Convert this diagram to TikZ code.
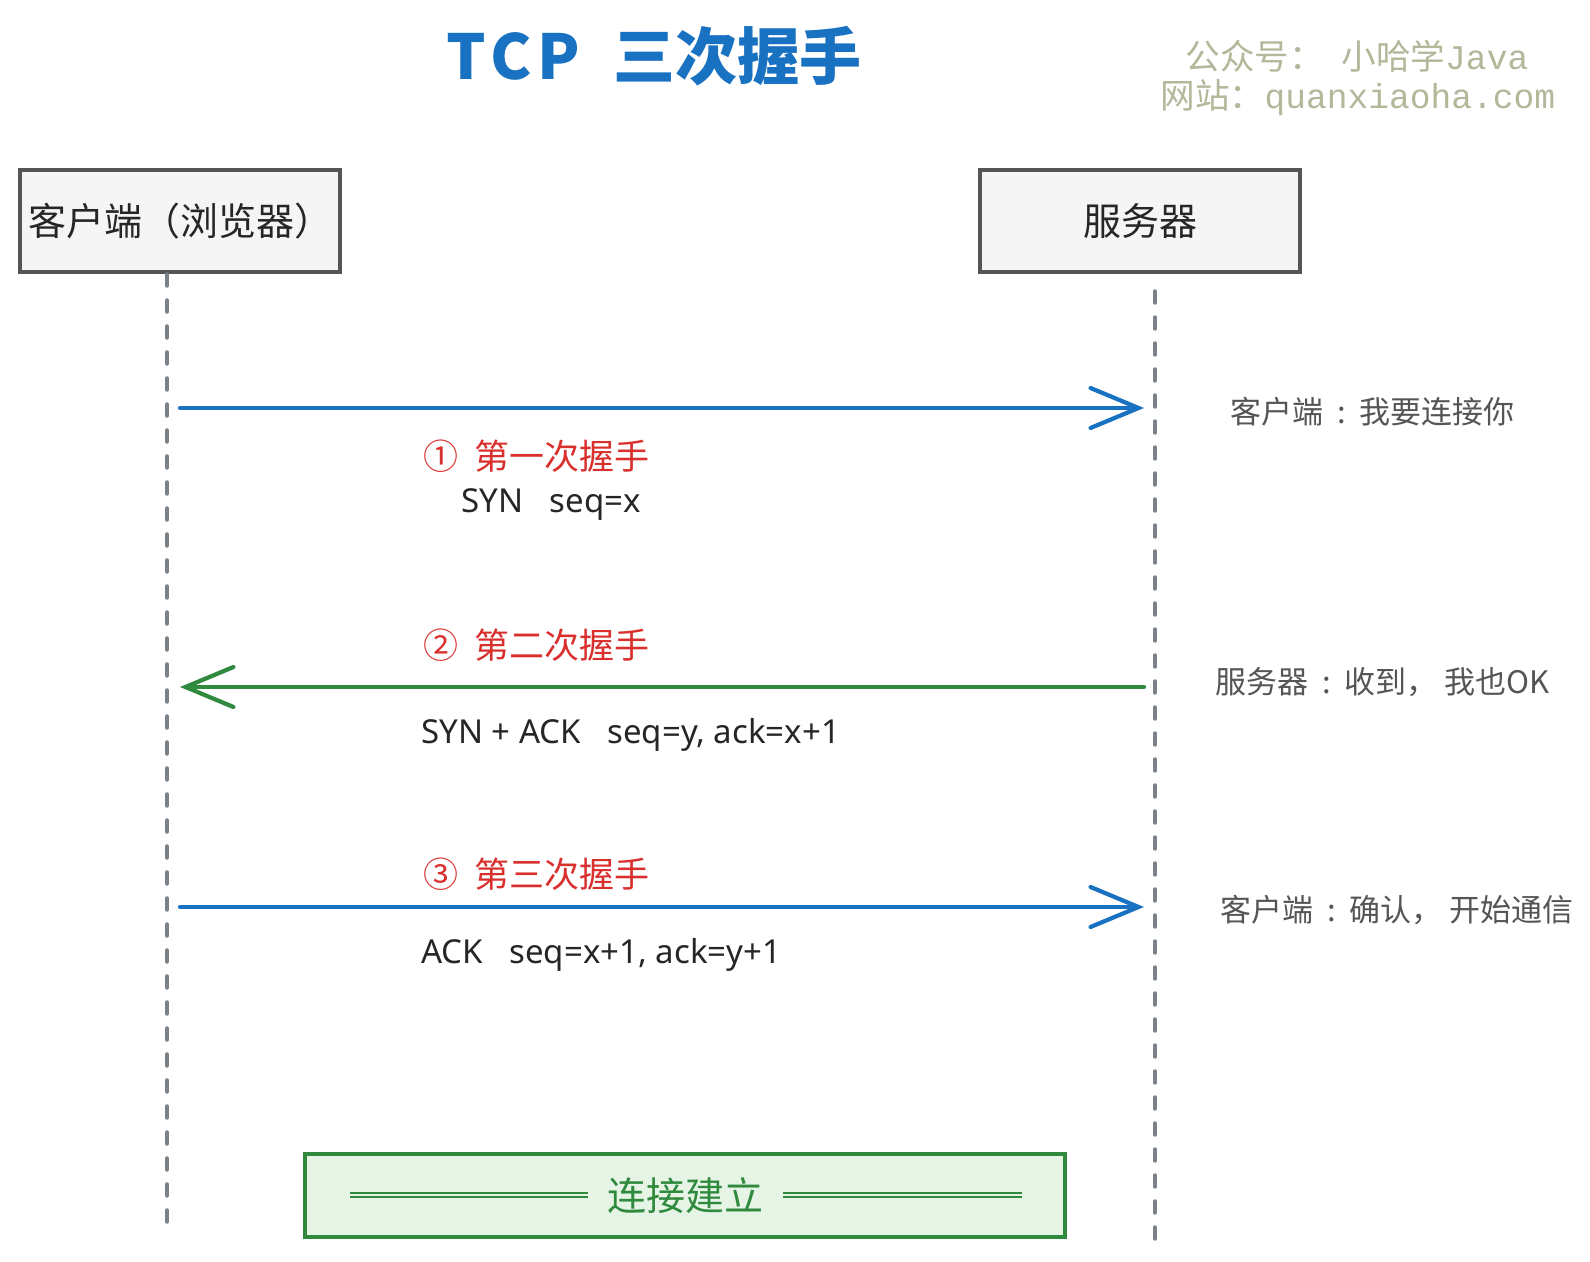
\documentclass[tikz,border=0pt]{standalone}
\usepackage{fontspec}
\setmainfont{Noto Sans CJK SC}
\newfontfamily\hand{Noto Sans}
\newfontfamily\wmmono{Liberation Mono}
\usetikzlibrary{arrows.meta}
\definecolor{eblue}{HTML}{1971C2}
\definecolor{egreen}{HTML}{2F8A3E}
\definecolor{ered}{HTML}{D9302E}
\definecolor{egray}{HTML}{555555}
\definecolor{lgray}{HTML}{7A8188}
\definecolor{wmark}{HTML}{B4B79A}
\definecolor{boxfill}{HTML}{F5F5F5}
\definecolor{gfill}{HTML}{E6F4E6}
\tikzset{
  actor/.style={draw=egray, line width=2pt, fill=boxfill, minimum width=160pt, minimum height=51pt, inner sep=0pt, font=\fontsize{19}{22}\selectfont, text=black!85},
  lifeline/.style={draw=lgray, line width=1.7pt, line cap=round, dash pattern=on 6pt off 7pt},
  msg/.style={line width=2.1pt, line cap=round, -{Straight Barb[length=24pt,width=20pt,line cap=round]}},
  steplabel/.style={anchor=west, text=ered, font=\fontsize{17.5}{20}\selectfont, inner sep=0pt},
  seqtext/.style={anchor=west, text=black!85, font=\hand\fontsize{16.5}{19}\selectfont, inner sep=0pt},
  note/.style={anchor=west, text=egray, font=\fontsize{15.5}{18}\selectfont, inner sep=0pt},
  wm/.style={text=wmark, font=\fontsize{17.3}{20}\selectfont, inner sep=0pt},
  donebox/.style={draw=egreen, line width=2pt, fill=gfill, minimum width=380pt, minimum height=41.5pt, inner sep=0pt},
  dline/.style={draw=egreen, line width=0.6pt}
}
\newcommand{\ncolon}{\hspace{0.45em}:\hspace{0.45em}}
\begin{document}
\begin{tikzpicture}[x=0.5pt,y=-0.5pt]
\useasboundingbox[fill=white] (0,0) rectangle (1590,1262);

% title and watermark
\node[text=eblue, font=\bfseries\fontsize{31}{34}\selectfont, inner sep=0pt] (title) at (654,56) {T\kern0.08em C\kern0.08em P\hspace{0.55em}三次握手};
\node[wm] (wm1) at (1357,56) {公众号：\hspace{0.5em}小哈学{\wmmono Java}};
\node[wm] (wm2) at (1358,98) {网站：{\wmmono quanxiaoha.com}};

% actors
\node[actor] (client) at (180,221) {客户端（浏览器）};
\node[actor] (server) at (1140,221) {服务器};

% lifelines
\coordinate (ctop) at (167,274);
\coordinate (cbot) at (167,1232);
\coordinate (stop) at (1155,291);
\coordinate (sbot) at (1155,1242);
\draw[lifeline] (ctop) -- (cbot);
\draw[lifeline] (stop) -- (sbot);

% messages
\coordinate (m1s) at (180,408);
\coordinate (m1e) at (1144,408);
\coordinate (m2s) at (1144,687);
\coordinate (m2e) at (180,687);
\coordinate (m3s) at (180,907);
\coordinate (m3e) at (1144,907);
\draw[msg, eblue] (m1s) -- (m1e);
\draw[msg, egreen] (m2s) -- (m2e);
\draw[msg, eblue] (m3s) -- (m3e);

% step labels
\node[steplabel] (l1) at (423,456) {①\hspace{0.45em}第一次握手};
\node[seqtext] (t1) at (461,505) {SYN\hspace{0.8em}seq=x};
\node[steplabel] (l2) at (423,645) {②\hspace{0.45em}第二次握手};
\node[seqtext] (t2) at (421,735) {SYN + ACK\hspace{0.8em}seq=y, ack=x+1};
\node[steplabel] (l3) at (423,874) {③\hspace{0.45em}第三次握手};
\node[seqtext] (t3) at (421,955) {ACK\hspace{0.8em}seq=x+1, ack=y+1};

% notes
\node[note] (n1) at (1230,412) {客户端\ncolon 我要连接你};
\node[note] (n2) at (1215,682) {服务器\ncolon 收到，\hspace{0.2em}我也OK};
\node[note] (n3) at (1220,910) {客户端\ncolon 确认，\hspace{0.2em}开始通信};

% connection established
\node[donebox] (done) at (684.5,1195.5) {};
\node[text=egreen, font=\fontsize{19.5}{22}\selectfont, inner sep=0pt] (donetext) at (685,1196) {连接建立};
\coordinate (d1a) at (350,1193);
\coordinate (d1b) at (588,1193);
\coordinate (d1c) at (350,1197);
\coordinate (d1d) at (588,1197);
\coordinate (d2a) at (783,1193);
\coordinate (d2b) at (1022,1193);
\coordinate (d2c) at (783,1197);
\coordinate (d2d) at (1022,1197);
\draw[dline] (d1a) -- (d1b);
\draw[dline] (d1c) -- (d1d);
\draw[dline] (d2a) -- (d2b);
\draw[dline] (d2c) -- (d2d);
\end{tikzpicture}
\end{document}
